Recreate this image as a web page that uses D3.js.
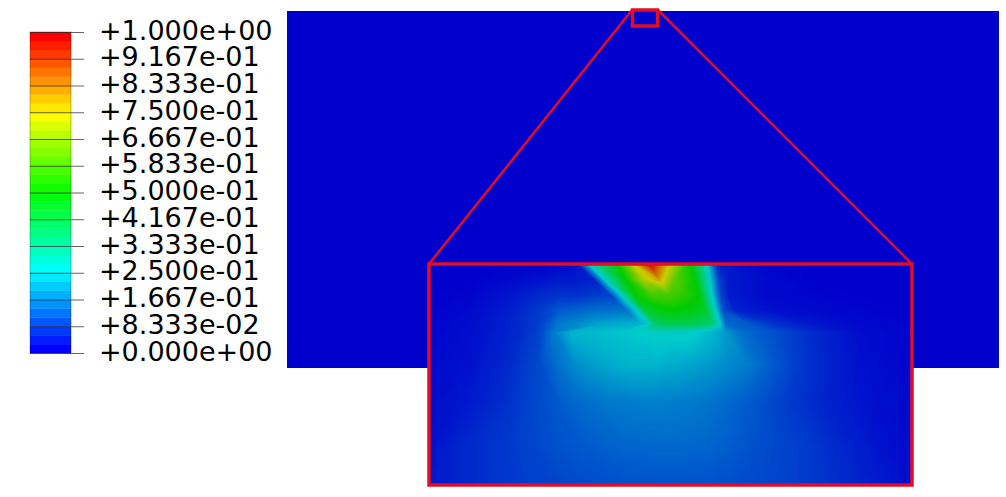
<!DOCTYPE html>
<html>
<head>
<meta charset="utf-8">
<script src="https://cdn.jsdelivr.net/npm/d3@7"></script>
<style>
  html, body { margin: 0; padding: 0; background: #fff; }
  svg { display: block; }
  text { font-family: "DejaVu Sans", sans-serif; }
</style>
</head>
<body>
<script>
// legend values
const tickLabels = ["+1.000e+00", "+9.167e-01", "+8.333e-01", "+7.500e-01", "+6.667e-01", "+5.833e-01",
                    "+5.000e-01", "+4.167e-01", "+3.333e-01", "+2.500e-01", "+1.667e-01", "+8.333e-02", "+0.000e+00"];
const tickValues = tickLabels.map(Number);
const bandCount = 36;
const colorStops = [0, 0.25, 0.5, 0.75, 1];
const colorNames = ["#0000ff", "#00ffff", "#00ff00", "#ffff00", "#ff0000"];

// result mesh, model units. same number of nodes on each row
const meshRowY = [0, 16, 31, 46, 60, 68, 100, 140, 180, 221];
const meshX = [
    [0, 30, 70, 100, 120, 135, 148, 160, 188, 204, 221, 243, 262, 278, 288, 310, 340, 380, 430, 483],
    [0, 40, 80, 110, 130, 148, 165, 176, 197, 214, 230, 245, 266, 281, 290, 300, 340, 380, 430, 483],
    [0, 40, 80, 110, 130, 150, 181, 192, 206, 222, 240, 255, 270, 283, 292, 300, 340, 380, 430, 483],
    [0, 40, 80, 110, 130, 160, 197, 207, 215, 230, 245, 262, 276, 287, 294, 305, 340, 380, 430, 483],
    [0, 40, 80, 110, 130, 170, 212, 221, 225, 235, 250, 265, 284, 291, 297, 320, 345, 380, 430, 483],
    [0, 50, 90, 110, 125, 141, 165, 190, 210, 224, 240, 260, 280, 295, 310, 325, 350, 385, 430, 483],
    [0, 40, 80, 110, 130, 145, 160, 180, 200, 224, 250, 280, 300, 320, 335, 350, 370, 390, 430, 483],
    [0, 40, 80, 110, 130, 145, 160, 180, 200, 224, 250, 280, 300, 320, 340, 360, 380, 400, 440, 483],
    [0, 40, 80, 105, 130, 155, 180, 200, 224, 250, 280, 300, 315, 330, 350, 380, 405, 430, 455, 483],
    [0, 30, 60, 90, 120, 150, 180, 200, 224, 250, 280, 300, 320, 340, 360, 380, 400, 430, 455, 483]
];
const meshValue = [
    [0, 0, 0, 0, 0, 0.01, 0.03, 0.25, 0.5, 0.75, 1, 0.72, 0.5, 0.25, 0.05, 0.02, 0.005, 0, 0, 0],
    [0, 0, 0.01, 0.02, 0.03, 0.03, 0.04, 0.25, 0.5, 0.7, 0.8, 0.62, 0.5, 0.25, 0.08, 0.03, 0.01, 0, 0, 0],
    [0, 0.005, 0.025, 0.05, 0.06, 0.06, 0.08, 0.25, 0.5, 0.58, 0.58, 0.55, 0.5, 0.25, 0.08, 0.03, 0.01, 0.005, 0, 0],
    [0.003, 0.01, 0.035, 0.07, 0.11, 0.13, 0.14, 0.25, 0.43, 0.48, 0.5, 0.48, 0.45, 0.25, 0.1, 0.04, 0.02, 0.01, 0.005, 0],
    [0.005, 0.015, 0.04, 0.075, 0.15, 0.2, 0.22, 0.25, 0.36, 0.4, 0.41, 0.4, 0.36, 0.25, 0.13, 0.11, 0.06, 0.03, 0.01, 0.003],
    [0.005, 0.02, 0.05, 0.08, 0.15, 0.22, 0.23, 0.24, 0.25, 0.26, 0.26, 0.26, 0.23, 0.19, 0.14, 0.12, 0.09, 0.05, 0.015, 0.005],
    [0.01, 0.02, 0.05, 0.09, 0.14, 0.17, 0.19, 0.21, 0.22, 0.22, 0.21, 0.19, 0.17, 0.15, 0.125, 0.1, 0.07, 0.05, 0.02, 0.005],
    [0.015, 0.03, 0.06, 0.09, 0.11, 0.125, 0.135, 0.145, 0.15, 0.155, 0.15, 0.14, 0.125, 0.11, 0.09, 0.07, 0.055, 0.04, 0.02, 0.01],
    [0.02, 0.05, 0.07, 0.085, 0.1, 0.11, 0.12, 0.125, 0.13, 0.13, 0.125, 0.115, 0.105, 0.095, 0.085, 0.07, 0.05, 0.035, 0.02, 0.012],
    [0.03, 0.045, 0.06, 0.07, 0.08, 0.09, 0.095, 0.1, 0.1, 0.1, 0.1, 0.095, 0.09, 0.085, 0.078, 0.07, 0.06, 0.045, 0.03, 0.015]
];

const backgroundValue = 0;
const lighting = 0.8;
const zoomRed = "#e40d24";

const width = 1006, height = 497;

const svg = d3.select("body").append("svg")
              .attr("width", width)
              .attr("height", height);

const legendY = d3.scaleLinear([0, 1], [353, 32]);
const bandScale = d3.scaleBand(d3.range(bandCount), [353, 32]);
const rainbow = d3.scaleLinear(colorStops, colorNames).clamp(true);

// shaded colour used on the model, the legend keeps the full one
const shaded = v => {
    let c = d3.rgb(rainbow(v));
    return [c.r * lighting, c.g * lighting, c.b * lighting];
};

// legend bar
svg.append("g")
   .selectAll("rect")
   .data(d3.range(bandCount))
   .enter()
   .append("rect")
   .attr("x", 30)
   .attr("y", d => bandScale(d))
   .attr("width", 41)
   .attr("height", bandScale.bandwidth() + 0.3)
   .attr("fill", d => rainbow(d / (bandCount - 1)));

svg.append("rect")
   .attr("x", 30)
   .attr("y", 32)
   .attr("width", 41)
   .attr("height", 321)
   .attr("fill", "none")
   .attr("stroke", "#000")
   .attr("stroke-opacity", 0.35)
   .attr("stroke-width", 0.8);

let legendAxis = d3.axisRight(legendY)
                   .tickValues(tickValues)
                   .tickSize(54)
                   .tickPadding(15)
                   .tickFormat((d, i) => tickLabels[i]);

let legendG = svg.append("g")
                 .attr("transform", "translate(30,0)")
                 .call(legendAxis);
legendG.select(".domain").remove();
legendG.selectAll("line").attr("stroke", "#222").attr("stroke-opacity", 0.7).attr("stroke-width", 1);
legendG.selectAll("text")
       .attr("y", -1.5)
       .attr("font-size", 27)
       .attr("font-family", '"DejaVu Sans", sans-serif')
       .attr("fill", "#000");

// whole model
const modelColor = shaded(backgroundValue);
svg.append("rect")
   .attr("x", 287)
   .attr("y", 11)
   .attr("width", 712)
   .attr("height", 357)
   .attr("fill", d3.rgb(...modelColor));

// zoomed window: colour the triangles of the mesh pixel by pixel
const insetX = d3.scaleLinear([0, 483], [429, 912]);
const insetY = d3.scaleLinear([0, 221], [264, 485]);

const canvas = document.createElement("canvas");
canvas.width = 483;
canvas.height = 221;
const ctx = canvas.getContext("2d");
const img = ctx.createImageData(canvas.width, canvas.height);

const fillTriangle = (a, b, c) => {
    let det = (b.y - c.y) * (a.x - c.x) + (c.x - b.x) * (a.y - c.y);
    if (det === 0) return;
    let x0 = Math.max(0, Math.floor(Math.min(a.x, b.x, c.x)));
    let x1 = Math.min(canvas.width - 1, Math.ceil(Math.max(a.x, b.x, c.x)));
    let y0 = Math.max(0, Math.floor(Math.min(a.y, b.y, c.y)));
    let y1 = Math.min(canvas.height - 1, Math.ceil(Math.max(a.y, b.y, c.y)));
    for (let y = y0; y <= y1; y++) {
        for (let x = x0; x <= x1; x++) {
            let px = x + 0.5, py = y + 0.5;
            let l1 = ((b.y - c.y) * (px - c.x) + (c.x - b.x) * (py - c.y)) / det;
            let l2 = ((c.y - a.y) * (px - c.x) + (a.x - c.x) * (py - c.y)) / det;
            let l3 = 1 - l1 - l2;
            if (l1 < -0.001 || l2 < -0.001 || l3 < -0.001) continue;
            let col = shaded(l1 * a.v + l2 * b.v + l3 * c.v);
            let k = (y * canvas.width + x) * 4;
            img.data[k] = col[0];
            img.data[k + 1] = col[1];
            img.data[k + 2] = col[2];
            img.data[k + 3] = 255;
        }
    }
};

const meshNode = (r, i) => ({x: meshX[r][i], y: meshRowY[r], v: meshValue[r][i]});

for (let r = 0; r < meshRowY.length - 1; r++) {
    for (let i = 0; i < meshX[r].length - 1; i++) {
        let p = meshNode(r, i), q = meshNode(r, i + 1);
        let s = meshNode(r + 1, i), t = meshNode(r + 1, i + 1);
        // split each quad along the diagonal with the smaller jump in value
        if (Math.abs(p.v - t.v) <= Math.abs(q.v - s.v)) {
            fillTriangle(p, q, t);
            fillTriangle(p, t, s);
        } else {
            fillTriangle(p, q, s);
            fillTriangle(q, t, s);
        }
    }
}
ctx.putImageData(img, 0, 0);

svg.append("image")
   .attr("href", canvas.toDataURL())
   .attr("x", insetX(0))
   .attr("y", insetY(0))
   .attr("width", insetX(483) - insetX(0))
   .attr("height", insetY(221) - insetY(0));

// connector lines and the two red frames
const frames = svg.append("g").attr("fill", "none").attr("stroke", zoomRed);
frames.append("line")
      .attr("x1", 632).attr("y1", 10).attr("x2", insetX(0)).attr("y2", insetY(0))
      .attr("stroke-width", 2.5);
frames.append("line")
      .attr("x1", 658).attr("y1", 10).attr("x2", insetX(483)).attr("y2", insetY(0))
      .attr("stroke-width", 2.5);
frames.append("rect")
      .attr("x", 632.5).attr("y", 10)
      .attr("width", 25).attr("height", 16)
      .attr("stroke-width", 3.5);
frames.append("rect")
      .attr("x", insetX(0)).attr("y", insetY(0))
      .attr("width", insetX(483) - insetX(0)).attr("height", insetY(221) - insetY(0))
      .attr("stroke-width", 3.5);
</script>
</body>
</html>
